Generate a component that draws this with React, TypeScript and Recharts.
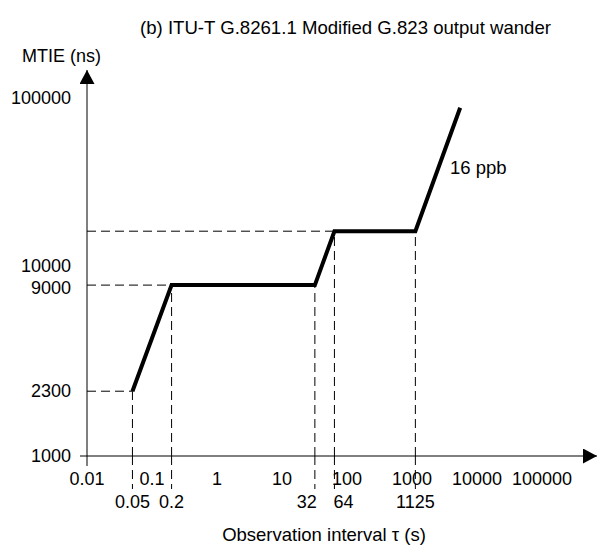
import React from "react";
import { LineChart, Line, XAxis, YAxis, ReferenceLine } from "recharts";

// breakpoints of the mask: observation interval (s) and MTIE (ns)
const tauPoints = [0.05, 0.2, 32, 64, 1125, 5500];
const mtiePoints = [2300, 9000, 9000, 18000, 18000, 88000];

const xTicks = [0.01, 0.1, 1, 10, 100, 1000, 10000, 100000];
const xMarked = [0.05, 0.2, 32, 64, 1125];
const yTicks = [1000, 2300, 9000, 10000, 100000];

const X_MIN = 0.01;
const X_MAX = 700000;
const Y_MIN = 1000;
const Y_MAX = 143000;

const FONT = "'Liberation Sans', Arial, sans-serif";

const data = tauPoints.map((tau, i) => ({ tau, mtie: mtiePoints[i] }));
const allXTicks = [...xTicks, ...xMarked].sort((a, b) => a - b);

// dashed guides from the axes to each marked breakpoint
const vGuides = xMarked.map((tau) => ({
  tau,
  mtie: mtiePoints[tauPoints.indexOf(tau)],
}));
const hGuides = vGuides.filter(
  (g, i) => i === 0 || g.mtie !== vGuides[i - 1].mtie
);

// marked labels that crowd a neighbour are pushed to one side of their line
function markedAnchor(v: number) {
  const i = xMarked.indexOf(v);
  const next = xMarked[i + 1];
  const prev = xMarked[i - 1];
  if (next && next / v < 3) return "end";
  if (prev && v / prev < 3) return "start";
  return "middle";
}

function XTick(props: any) {
  const { x, y, payload } = props;
  const v = payload.value;
  const lower = xMarked.includes(v);
  const anchor = lower ? markedAnchor(v) : "middle";
  const tx = anchor === "end" ? x + 2 : anchor === "start" ? x - 1 : x;
  return (
    <g>
      {v === X_MIN && <line x1={x} y1={y} x2={x} y2={y + 10} stroke="#000" />}
      {lower && (
        <line
          x1={x}
          y1={y}
          x2={x}
          y2={y + 33}
          stroke="#000"
          strokeDasharray="9 5"
        />
      )}
      <text
        x={tx}
        y={y + (lower ? 52 : 29)}
        textAnchor={anchor}
        fontFamily={FONT}
        fontSize={18}
        fill="#000"
      >
        {String(v)}
      </text>
    </g>
  );
}

function YTick(props: any) {
  const { x, y, payload } = props;
  const v = payload.value;
  // 9000 and 10000 sit close together on the log axis; spread the labels a bit
  const nudge = v === 10000 ? -11 : v === 9000 ? 3 : 0;
  return (
    <g>
      {v === Y_MIN && <line x1={x - 7} y1={y} x2={x} y2={y} stroke="#000" />}
      <text
        x={x - 16}
        y={y + 6 + nudge}
        textAnchor="end"
        fontFamily={FONT}
        fontSize={18}
        fill="#000"
      >
        {String(v)}
      </text>
    </g>
  );
}

export default function App() {
  return (
    <div
      style={{
        position: "absolute",
        left: 0,
        top: 0,
        width: 597,
        height: 546,
        background: "#fff",
      }}
    >
      <LineChart
        width={597}
        height={546}
        data={data}
        margin={{ top: 70, right: 0, bottom: 0, left: 0 }}
      >
        <defs>
          <marker
            id="arrowHead"
            viewBox="0 0 14 15"
            refX={14}
            refY={7.5}
            markerWidth={14}
            markerHeight={15}
            markerUnits="userSpaceOnUse"
            orient="auto-start-reverse"
          >
            <path d="M0,0 L14,7.5 L0,15 z" fill="#000" />
          </marker>
        </defs>
        <XAxis
          dataKey="tau"
          type="number"
          scale="log"
          domain={[X_MIN, X_MAX]}
          allowDataOverflow
          ticks={allXTicks}
          interval={0}
          height={90}
          tickSize={0}
          tickMargin={0}
          tickLine={false}
          tick={<XTick />}
          axisLine={{ stroke: "#000", strokeWidth: 1, markerEnd: "url(#arrowHead)" }}
        />
        <YAxis
          type="number"
          scale="log"
          domain={[Y_MIN, Y_MAX]}
          allowDataOverflow
          ticks={yTicks}
          interval={0}
          width={87}
          tickSize={0}
          tickMargin={0}
          tickLine={false}
          tick={<YTick />}
          axisLine={{ stroke: "#000", strokeWidth: 1, markerStart: "url(#arrowHead)" }}
        />
        {vGuides.map((g) => (
          <ReferenceLine
            key={"v" + g.tau}
            segment={[
              { x: g.tau, y: Y_MIN },
              { x: g.tau, y: g.mtie },
            ]}
            stroke="#000"
            strokeWidth={1}
            strokeDasharray="9 5"
          />
        ))}
        {hGuides.map((g) => (
          <ReferenceLine
            key={"h" + g.mtie}
            segment={[
              { x: X_MIN, y: g.mtie },
              { x: g.tau, y: g.mtie },
            ]}
            stroke="#000"
            strokeWidth={1}
            strokeDasharray="9 5"
          />
        ))}
        <Line
          type="linear"
          dataKey="mtie"
          stroke="#000"
          strokeWidth={4}
          dot={false}
          activeDot={false}
          isAnimationActive={false}
        />
      </LineChart>
      <svg
        width={597}
        height={546}
        style={{ position: "absolute", left: 0, top: 0, pointerEvents: "none" }}
      >
        <g fontFamily={FONT} fill="#000">
          <text x={140} y={34} fontSize={18.6}>
            (b) ITU-T G.8261.1 Modified G.823 output wander
          </text>
          <text x={22} y={62} fontSize={18}>
            MTIE (ns)
          </text>
          <text x={450} y={174} fontSize={18.5}>
            16 ppb
          </text>
          <text x={324} y={541} textAnchor="middle" fontSize={18.5}>
            Observation interval τ (s)
          </text>
        </g>
      </svg>
    </div>
  );
}
